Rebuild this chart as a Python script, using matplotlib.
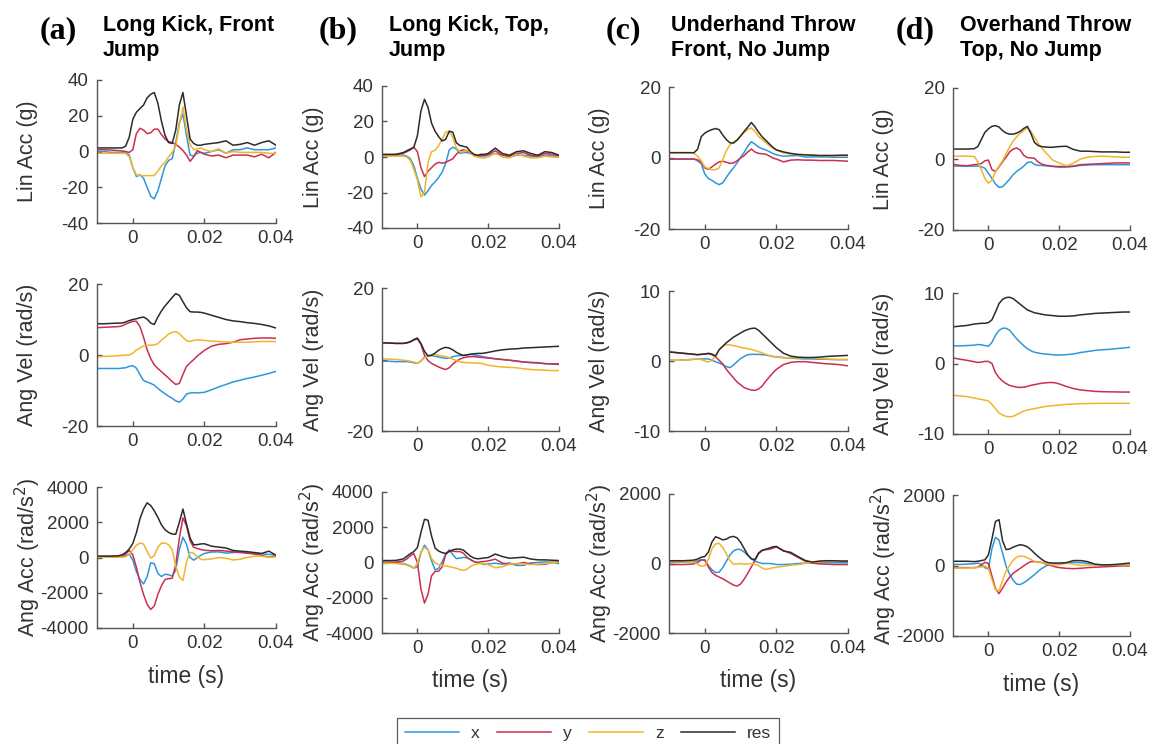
import numpy as np
import matplotlib
matplotlib.use("Agg")
import matplotlib.pyplot as plt
from matplotlib.lines import Line2D

# ---------------- data ----------------
t_ms = [-10, -8, -6, -4, -3, -2, -1, 0, 1, 2, 3, 4, 5, 6, 7, 8, 9, 10, 11, 12, 13, 14,
        15, 16, 17, 18, 19, 20, 22, 24, 26, 28, 30, 32, 34, 36, 38, 40]

series_names = ["x", "y", "z", "res"]
panel_letters = ["(a)", "(b)", "(c)", "(d)"]
panel_titles = ["Long Kick, Front\nJump", "Long Kick, Top,\nJump",
                "Underhand Throw\nFront, No Jump", "Overhand Throw\nTop, No Jump"]
row_labels = ["Lin Acc (g)", "Ang Vel (rad/s)", "Ang Acc (rad/s$^2$)"]
xtick_vals = [0, 0.02, 0.04]
xtick_labels = ["0", "0.02", "0.04"]
ytick_sets = [
    [[-40, -20, 0, 20, 40], [-40, -20, 0, 20, 40], [-20, 0, 20], [-20, 0, 20]],
    [[-20, 0, 20], [-20, 0, 20], [-10, 0, 10], [-10, 0, 10]],
    [[-4000, -2000, 0, 2000, 4000], [-4000, -2000, 0, 2000, 4000], [-2000, 0, 2000], [-2000, 0, 2000]],
]

# Row 1: linear acceleration (g)
lin_a_x = [0, 0, -0.5, -0.5, -0.5, -0.5, -2, -9, -14, -13, -15, -20, -25, -26.5, -22, -15, -8, -5, -4, 5, 16, 21, 9, -2, -2.5, -1, -0.5, -1, 0, 1, -1, 1, 1, 2, 1, 1, 1, 2]
lin_a_y = [1, 1, 0.8, 0.5, 0.3, 0, -0.5, 1, 10, 13, 12, 10, 10.5, 12.5, 12.5, 9.5, 7, 5.5, 5, 4, 2.5, 0.5, -2, -5.5, -3, 0.5, -0.5, -1.5, -2.5, -2, -3.5, -2, -2, -2, -3, -1.5, -3.5, -0.5]
lin_a_z = [-1, -1, -1, -1, -1, -1, -3, -9, -13, -13.5, -13.5, -13.5, -13.5, -13.5, -11, -8, -6, -3, -0.5, 3, 15, 25, 12, 4, 1, 1.5, 2, 1, 0, 1.5, -1, 0, -0.5, -0.5, -0.5, -0.5, -1, -1]
lin_a_res = [2, 2, 2, 2, 2, 3, 8, 18, 22, 24, 26, 30, 32, 33, 27, 17, 9, 5, 4.5, 12, 26, 33, 20, 7, 4.5, 3.5, 3.5, 4, 4.5, 5, 6, 3.5, 4, 5, 3.5, 5, 6, 3.5]

lin_b_x = [1, 1, 1, 1, 0.5, -1, -5, -12, -18, -21.5, -19, -16, -14, -11.5, -8.5, -3.5, 4, 5.5, 4.5, 2, 2.5, 2.5, 2, 1, 0.5, 0.5, 0.5, 1, 2, 1, 0, 1, 1, 0.5, 0, 1, 0.5, 0]
lin_b_y = [1, 1, 1.5, 2, 3, 4, 5.5, 3, -6, -11, -8, -6, -4, -3, -3.5, -3, -2, -1, 1.5, 3.5, 4, 3.5, 2, 1, 0.5, 1, 1, 1.5, 3.5, 1, 0.5, 2, 2.5, 1, 0.5, 2, 1.5, 0.5]
lin_b_z = [0.5, 0.5, 0.5, 0.5, 0, -2, -7, -13, -22.5, -20, -3, 3, 3.8, 6.5, 10, 14, 14.5, 11, 5, 3, 3, 4, 2, 0.5, 0, -0.5, -0.5, 0, 2, 0, -0.5, 1.5, 0.5, -0.5, -0.5, 0.5, 0, 0]
lin_b_res = [1.5, 1.5, 1.5, 2.5, 3.5, 4.5, 5.5, 12, 26, 32.5, 28, 19, 14.5, 11.5, 9, 10, 14.5, 14, 8, 6.5, 6, 5.5, 3, 1.5, 1, 1.5, 1.5, 2, 5, 2, 1, 3, 3.5, 2, 1, 3, 2.5, 1]

lin_c_x = [-0.3, -0.3, -0.3, -0.3, -0.3, -0.8, -1.6, -4.5, -5.8, -6.3, -7, -7.5, -7, -5.5, -4, -2.8, -1.4, 0.2, 1.6, 3.3, 4.6, 3.9, 3.1, 2.6, 2.3, 1.8, 1.3, 0.9, 0.5, 0.6, 0.7, 0.3, 0.3, 0.3, 0.3, 0.2, 0.2, 0.2]
lin_c_y = [-0.3, -0.3, -0.3, -0.3, -0.3, -0.5, -1.2, -2.8, -3.2, -2.5, -1.7, -1.1, -0.9, -1.2, -1.5, -1.4, -0.8, 0, 0.7, 1.7, 2.5, 1.7, 1.3, 1.2, 1.1, 0.6, 0, -0.3, -1.1, -0.6, -0.5, -0.6, -0.6, -0.7, -0.7, -0.7, -0.8, -0.9]
lin_c_z = [1.5, 1.5, 1.5, 1.5, 1.3, 0.5, -0.8, -2.5, -3, -3.3, -3.3, -2.8, -0.5, 2, 3.7, 4.5, 5.2, 6.2, 7.2, 8, 8.5, 7.5, 6.1, 5.2, 4.4, 3.5, 2.8, 2.2, 1.4, 1.1, 1, 0.9, 0.8, 0.7, 0.7, 0.7, 0.6, 0.6]
lin_c_res = [1.5, 1.5, 1.5, 1.5, 1.5, 2.5, 6, 7, 7.6, 8, 8.3, 8, 6.5, 5.2, 4.3, 4.2, 5, 6.2, 7.5, 8.7, 10, 8.8, 7.3, 6, 5, 4, 3, 2.3, 1.7, 1.3, 1, 0.9, 0.8, 0.7, 0.7, 0.7, 0.8, 0.8]

lin_d_x = [-2, -2, -2, -2, -2, -2.2, -2.6, -4, -5.5, -7, -8, -7.8, -6.8, -5.7, -4.4, -3.5, -2.8, -2, -1, -0.8, -1.5, -1.8, -1.8, -1.9, -2, -2.1, -2.2, -2.3, -2.3, -2.1, -1.8, -1.7, -1.6, -1.6, -1.6, -1.6, -1.6, -1.6]
lin_d_y = [-1.5, -1.8, -1.9, -1.6, -1.5, -1.3, -0.5, -0.3, -3, -3.5, -2.2, -0.8, 0.5, 2, 2.8, 3.1, 2.5, 1, 0.4, 0.3, 0.2, -0.8, -1.4, -1.7, -1.9, -2, -2.1, -2.1, -2.1, -2, -1.6, -1.5, -1.4, -1.3, -1.2, -1.1, -1.1, -1.1]
lin_d_z = [0.8, 0.8, 0.8, 0.7, -0.7, -3, -5.5, -6.8, -6, -3.5, -2, -0.5, 1.5, 3.4, 5, 6.3, 7.2, 8, 8.8, 7.8, 6.2, 4.5, 3.2, 2, 1, -0.2, -0.7, -1.1, -1.9, -1.2, 0, 0.5, 0.7, 0.8, 0.7, 0.6, 0.5, 0.5]
lin_d_res = [2.8, 2.8, 2.8, 2.9, 3.5, 5.5, 7.5, 8.5, 9.2, 9.4, 9, 8, 7.3, 7, 7, 7.3, 7.8, 8.6, 9.2, 7.2, 4.7, 3.8, 3.5, 3.4, 3.3, 3.3, 3.4, 3.5, 3.6, 2.7, 2.2, 2.2, 2.1, 2, 2, 2, 1.9, 1.9]

# Row 2: angular velocity (rad/s)
vel_a_x = [-3.8, -3.8, -3.8, -3.8, -3.7, -3.6, -3.2, -3, -3.7, -5.5, -7.2, -7.6, -8, -8.5, -9.4, -10.2, -10.9, -11.6, -12.2, -12.9, -13.3, -12.4, -11, -10.7, -10.6, -10.7, -10.6, -10.5, -9.8, -9, -8.3, -7.6, -7.1, -6.6, -6.2, -5.7, -5.2, -4.6]
vel_a_y = [7.7, 7.8, 7.9, 8, 8.2, 8.7, 9.1, 9.5, 9.5, 8, 5, 1.5, -1, -2.8, -3.8, -4.7, -5.6, -6.5, -7.5, -8.3, -8, -5.5, -3.2, -2.2, -1.3, -0.3, 0.5, 1.3, 2.5, 3, 3.2, 3.6, 4.3, 4.5, 4.7, 4.8, 4.8, 4.7]
vel_a_z = [-0.5, -0.4, -0.3, -0.2, -0.1, 0, 0, 0.5, 1.4, 2, 2.5, 2.7, 2.8, 2.8, 3.2, 4.2, 5, 5.9, 6.4, 6.6, 6, 5, 4, 3.8, 4.1, 4.3, 4.2, 4.1, 3.9, 3.8, 3.7, 3.6, 3.6, 3.6, 3.7, 3.8, 3.8, 3.8]
vel_a_res = [8.8, 8.8, 8.9, 9, 9, 9.3, 9.7, 10, 10.2, 10.5, 10.7, 10.1, 9, 8.6, 10.7, 12.4, 13.8, 15, 16.2, 17.3, 16.8, 15, 13.3, 12.2, 12.1, 12.1, 12, 11.8, 11.2, 10.6, 10, 9.6, 9.4, 9.1, 8.9, 8.6, 8.2, 7.6]

vel_b_x = [-0.5, -0.5, -0.6, -0.6, -0.6, -0.7, -0.9, -1.1, -0.4, 0.7, 1.1, 1.1, 0.9, 0.7, 0.5, 0.3, 0.4, 0.8, 1, 1.1, 1.2, 1.3, 1.4, 1.3, 1.1, 0.9, 0.7, 0.5, 0.2, 0, -0.2, -0.5, -0.7, -0.9, -1, -1.1, -1.3, -1.4]
vel_b_y = [4.7, 4.6, 4.5, 4.5, 4.6, 4.9, 5.4, 5.8, 4.2, 1.2, -0.3, -1.1, -1.6, -2.1, -2.5, -2.8, -2.3, -1.3, -0.5, 0.1, 0.5, 0.7, 0.8, 0.8, 0.7, 0.6, 0.5, 0.4, 0.2, 0, -0.2, -0.4, -0.7, -0.8, -0.9, -1.2, -1.2, -1.2]
vel_b_z = [0.2, 0.1, 0, -0.2, -0.3, -0.5, -0.7, -1.1, -0.4, 0.5, 1, 1.3, 1.4, 1.2, 1, 0.8, 0.5, 0.1, -0.3, -0.7, -0.8, -0.9, -0.9, -1, -1, -1.1, -1.3, -1.6, -1.9, -2.1, -2.2, -2.3, -2.6, -2.8, -2.9, -3, -3.1, -3.1]
vel_b_res = [4.7, 4.6, 4.5, 4.5, 4.7, 5, 5.6, 6, 4.5, 2.3, 1, 1.2, 1.8, 2.6, 3.1, 3.4, 3.2, 2.7, 2, 1.5, 1.1, 1.3, 1.5, 1.6, 1.7, 1.7, 1.8, 2, 2.4, 2.7, 2.9, 3, 3.2, 3.3, 3.4, 3.5, 3.6, 3.7]

vel_c_x = [0.1, 0.1, 0.15, 0.2, 0.25, 0.25, 0.3, 0.3, 0.3, 0.1, -0.1, -0.3, -0.5, -0.8, -0.95, -0.6, -0.1, 0.35, 0.65, 0.9, 0.95, 0.95, 0.95, 0.9, 0.85, 0.75, 0.65, 0.6, 0.5, 0.4, 0.35, 0.3, 0.3, 0.25, 0.25, 0.2, 0.2, 0.2]
vel_c_y = [1.3, 1.2, 1.1, 1, 0.95, 0.9, 0.95, 1, 1.05, 0.9, 0.6, 0.1, -0.4, -1.2, -1.8, -2.4, -3, -3.4, -3.8, -4, -4.15, -4.2, -4, -3.6, -2.9, -2.3, -1.7, -1.2, -0.5, -0.2, -0.1, -0.1, -0.2, -0.3, -0.4, -0.45, -0.55, -0.7]
vel_c_z = [0.1, 0.1, 0.15, 0.2, 0.25, 0.3, 0.2, 0, -0.15, 0.1, 0.7, 1.6, 2.1, 2.35, 2.3, 2.2, 2.1, 1.95, 1.85, 1.75, 1.65, 1.5, 1.35, 1.15, 0.95, 0.8, 0.65, 0.55, 0.45, 0.45, 0.45, 0.45, 0.45, 0.35, 0.3, 0.25, 0.2, 0.2]
vel_c_res = [1.3, 1.2, 1.1, 1, 0.95, 0.9, 0.95, 1, 1.1, 1, 0.7, 1.6, 2.1, 2.6, 3, 3.4, 3.7, 4, 4.3, 4.5, 4.65, 4.7, 4.4, 3.9, 3.4, 2.9, 2.4, 1.9, 1.1, 0.7, 0.55, 0.5, 0.5, 0.55, 0.65, 0.7, 0.75, 0.8]

vel_d_x = [2.5, 2.5, 2.55, 2.6, 2.7, 2.65, 2.55, 2.45, 3, 4, 4.7, 5, 5, 4.7, 4.1, 3.5, 3, 2.5, 2.1, 1.8, 1.6, 1.5, 1.4, 1.35, 1.3, 1.25, 1.2, 1.2, 1.25, 1.35, 1.55, 1.7, 1.85, 1.95, 2, 2.1, 2.2, 2.3]
vel_d_y = [0.8, 0.6, 0.45, 0.25, 0.15, 0.2, 0.3, 0.3, 0, -1.3, -2, -2.5, -2.85, -3.1, -3.25, -3.35, -3.4, -3.35, -3.25, -3.1, -3, -2.9, -2.8, -2.75, -2.7, -2.7, -2.75, -2.9, -3.25, -3.55, -3.75, -3.85, -3.95, -4, -4.02, -4.03, -4.05, -4.05]
vel_d_z = [-4.5, -4.6, -4.7, -4.9, -5, -5.1, -5.2, -5.3, -5.8, -6.4, -7, -7.3, -7.5, -7.55, -7.5, -7.25, -7, -6.75, -6.6, -6.5, -6.4, -6.3, -6.2, -6.1, -6.05, -6, -5.95, -5.9, -5.8, -5.75, -5.7, -5.68, -5.66, -5.65, -5.65, -5.65, -5.65, -5.65]
vel_d_res = [5.2, 5.3, 5.4, 5.6, 5.65, 5.7, 5.7, 5.8, 6.2, 7.3, 8.5, 9.1, 9.35, 9.4, 9.2, 8.8, 8.4, 8, 7.6, 7.4, 7.2, 7.1, 7, 6.9, 6.85, 6.8, 6.75, 6.7, 6.7, 6.75, 6.9, 7, 7.1, 7.15, 7.2, 7.25, 7.3, 7.3]

# Row 3: angular acceleration (rad/s^2)
acc_a_x = [50, 50, 50, 50, 50, 100, 200, -150, -800, -1250, -1500, -1100, -300, -350, -900, -1080, -950, -980, -1050, -720, 450, 1150, 750, 0, -150, -20, 120, 230, 310, 320, 250, 280, 320, 270, 220, 200, 180, 130]
acc_a_y = [50, 50, 50, 40, 60, 200, 400, 150, -550, -1400, -2100, -2650, -2950, -2750, -2100, -1600, -1250, -1200, -1180, -400, 1100, 2250, 1800, 950, 580, 510, 450, 410, 380, 400, 370, 320, 280, 240, 200, 120, 20, 75]
acc_a_z = [20, 20, 20, 20, 20, 50, 180, 430, 700, 820, 760, 350, -30, 100, 580, 820, 820, 720, 450, -500, -1100, -1300, -250, 290, 250, 40, -110, -120, -80, 0, -40, -140, -100, 0, 80, 80, 0, 40]
acc_a_res = [80, 80, 80, 100, 150, 280, 480, 800, 1400, 2200, 2750, 3100, 2950, 2650, 2280, 1850, 1580, 1420, 1330, 1320, 2000, 2750, 1900, 1100, 720, 730, 770, 780, 640, 590, 540, 400, 360, 330, 280, 230, 360, 130]

acc_b_x = [20, 20, 0, -60, -120, -200, -320, -250, 550, 980, 720, 100, -420, -330, 50, 480, 720, 450, 220, 250, 290, 260, 170, 50, 0, -60, -120, -80, -40, -100, -20, -170, -160, -20, 0, 40, 10, -60]
acc_b_y = [0, 0, 20, 80, 200, 380, 500, 0, -1500, -2300, -1800, -750, -510, -490, -250, 450, 680, 640, 620, 620, 530, 300, 160, 50, 0, 40, 60, 90, 190, -30, -110, -80, 0, -80, -120, -100, 0, 40]
acc_b_z = [-40, -40, -60, -100, -150, -230, -320, -50, 600, 860, 720, 230, -20, -120, -180, -200, -230, -280, -330, -400, -450, -380, -230, -120, -80, -50, -80, -130, -300, -240, -100, -60, -80, -120, -100, -60, -20, 30]
acc_b_res = [110, 110, 120, 200, 350, 500, 620, 850, 1700, 2450, 2400, 1500, 820, 650, 560, 510, 620, 720, 760, 760, 700, 530, 360, 250, 210, 230, 260, 280, 480, 340, 240, 270, 300, 200, 150, 150, 130, 110]

acc_c_x = [30, 30, 40, 50, 60, 80, 110, 100, -60, -180, -260, -250, -120, 60, 240, 360, 410, 400, 330, 230, 130, 70, 30, 0, 0, 0, -10, -30, -30, -20, 0, 10, 20, 20, 20, 20, 20, 20]
acc_c_y = [-30, -30, -30, -20, -10, 30, 100, 100, -100, -260, -340, -390, -440, -500, -560, -620, -650, -590, -450, -280, -100, 90, 280, 370, 400, 410, 440, 480, 370, 290, 180, 70, 10, -10, -20, -30, -30, -30]
acc_c_z = [50, 50, 50, 50, 40, -20, -80, -60, 120, 420, 560, 580, 460, 280, 90, -20, -10, 0, -20, -10, 0, -20, -60, -130, -170, -150, -120, -110, -80, -50, -30, 0, 30, 50, 60, 70, 70, 70]
acc_c_res = [80, 80, 80, 90, 100, 130, 180, 200, 330, 620, 770, 730, 680, 700, 760, 780, 740, 610, 430, 250, 140, 110, 300, 380, 410, 440, 480, 490, 360, 320, 200, 90, 40, 70, 80, 80, 70, 70]

acc_d_x = [30, 30, 40, 50, 70, 30, -60, -100, 480, 800, 720, 350, -20, -250, -420, -530, -540, -490, -420, -340, -260, -170, -90, -30, 20, 30, 40, 40, 70, 90, 80, 60, 20, 20, 20, 20, 20, 20]
acc_d_y = [-60, -60, -60, -60, -50, 20, 90, 60, -300, -650, -800, -640, -470, -330, -220, -150, -80, -10, 60, 110, 110, 100, 90, 50, 20, -10, -40, -60, -80, -90, -80, -60, -50, -40, -30, -20, -10, -10]
acc_d_z = [-70, -70, -70, -60, -50, -40, -20, -80, -400, -690, -720, -420, -150, 0, 150, 240, 270, 260, 220, 170, 120, 90, 80, 60, 40, 20, 20, 20, 60, 40, 0, 10, 20, 20, 20, 20, 20, 20]
acc_d_res = [120, 120, 120, 110, 120, 140, 160, 300, 750, 1250, 1300, 700, 450, 470, 520, 560, 590, 570, 530, 450, 350, 260, 180, 110, 80, 70, 70, 70, 80, 140, 140, 110, 40, 20, 20, 30, 50, 70]

panels = [
    [[lin_a_x, lin_a_y, lin_a_z, lin_a_res], [lin_b_x, lin_b_y, lin_b_z, lin_b_res],
     [lin_c_x, lin_c_y, lin_c_z, lin_c_res], [lin_d_x, lin_d_y, lin_d_z, lin_d_res]],
    [[vel_a_x, vel_a_y, vel_a_z, vel_a_res], [vel_b_x, vel_b_y, vel_b_z, vel_b_res],
     [vel_c_x, vel_c_y, vel_c_z, vel_c_res], [vel_d_x, vel_d_y, vel_d_z, vel_d_res]],
    [[acc_a_x, acc_a_y, acc_a_z, acc_a_res], [acc_b_x, acc_b_y, acc_b_z, acc_b_res],
     [acc_c_x, acc_c_y, acc_c_z, acc_c_res], [acc_d_x, acc_d_y, acc_d_z, acc_d_res]],
]

# ---------------- style / layout ----------------
colors = ["#2E97DB", "#C9304F", "#F2B42A", "#2B2B2B"]
W, H = 1152, 744
col_left = [97, 382, 669, 953]
col_right = [276, 559, 848, 1130]
row_top = [[80, 86, 87, 88], [284, 288, 291, 293], [487, 492, 494, 495]]
row_bot = [[223, 228, 229, 230], [426, 431, 431, 434], [628, 633, 633, 636]]
axis_col = "#555555"
text_col = "#333333"
SANS = "Liberation Sans"

plt.rcParams["font.family"] = SANS
fig = plt.figure(figsize=(W / 100, H / 100), dpi=100)
fig.patch.set_facecolor("white")

t_s = np.array(t_ms) / 1000.0

for r in range(3):
    for c in range(4):
        l, rr = col_left[c], col_right[c]
        tp, bt = row_top[r][c], row_bot[r][c]
        ax = fig.add_axes([l / W, 1 - bt / H, (rr - l) / W, (bt - tp) / H])
        for k in range(4):
            ax.plot(t_s, panels[r][c][k], color=colors[k], lw=1.1)
        yt = ytick_sets[r][c]
        ax.set_xlim(-0.01, 0.04)
        ax.set_ylim(yt[0], yt[-1])
        ax.set_xticks(xtick_vals)
        ax.set_xticklabels(xtick_labels)
        ax.set_yticks(yt)
        ax.set_yticklabels([str(v) for v in yt])
        for s in ["top", "right"]:
            ax.spines[s].set_visible(False)
        for s in ["left", "bottom"]:
            ax.spines[s].set_color(axis_col)
            ax.spines[s].set_linewidth(1.0)
        ax.tick_params(direction="in", length=3.5, width=1.0, color=axis_col,
                       labelsize=13.5, labelcolor=text_col)
        ax.tick_params(axis="x", pad=5)
        ax.tick_params(axis="y", pad=6)
        ax.patch.set_alpha(0)
        # y label
        fig.text((l - 69) / W, 1 - ((tp + bt) / 2) / H, row_labels[r], rotation=90,
                 ha="center", va="center", fontsize=15.5, color=text_col)
        if r == 2:
            fig.text(((l + rr) / 2) / W, 1 - (bt + 48) / H, "time (s)",
                     ha="center", va="center", fontsize=16.5, color=text_col)

# panel letters and titles
letter_x = [40, 319, 606, 896]
title_x = [103, 389, 671, 960]
for c in range(4):
    fig.text(letter_x[c] / W, 1 - 31 / H, panel_letters[c], fontfamily="Liberation Serif",
             fontweight="bold", fontsize=23, ha="left", va="center", color="black")
    fig.text(title_x[c] / W, 1 - 38 / H, panel_titles[c], fontweight="bold",
             fontsize=15.5, ha="left", va="center", color="black", linespacing=1.2)

# legend
handles = [Line2D([0], [0], color=colors[k], lw=1.1) for k in range(4)]
leg = fig.legend(handles, series_names, loc="upper center", ncol=4,
                 bbox_to_anchor=(588 / W, 1 - 718 / H), frameon=True, fancybox=False,
                 fontsize=12.5, handlelength=3.1, handletextpad=0.7, columnspacing=1.0,
                 borderpad=0.45, borderaxespad=0)
leg.get_frame().set_edgecolor("#333333")
leg.get_frame().set_linewidth(0.9)
for txt in leg.get_texts():
    txt.set_color(text_col)

fig.savefig("out.png", dpi=100, facecolor="white")
